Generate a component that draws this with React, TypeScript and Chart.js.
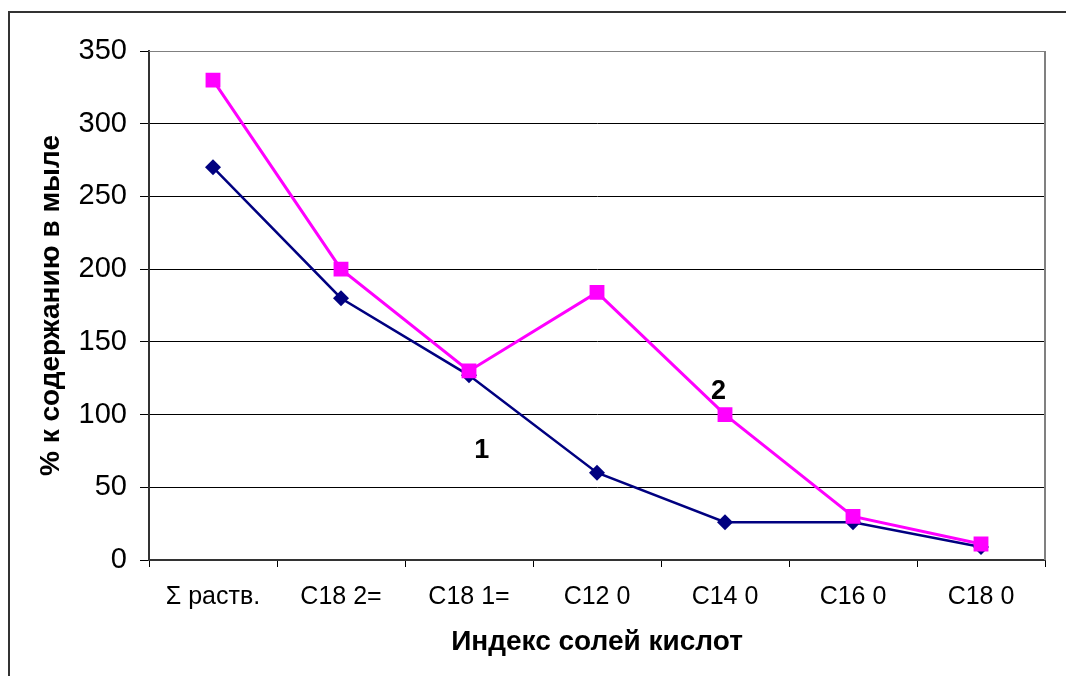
import React, { useEffect, useRef } from "react";
import { Chart, registerables } from "chart.js";

Chart.register(...registerables);

const categories = ["Σ раств.", "C18 2=", "C18 1=", "C12 0", "C14 0", "C16 0", "C18 0"];
const series1 = [270, 180, 127, 60, 26, 26, 9];
const series2 = [330, 200, 130, 184, 100, 30, 11];
const yTicks = [0, 50, 100, 150, 200, 250, 300, 350];
const annotLabels = ["1", "2"];
const annotX = [2.1, 3.95];
const annotY = [75.5, 116];

const FONT = "'Liberation Sans', Arial, sans-serif";

const decorPlugin = {
  id: "decor",
  afterDatasetsDraw(chart: any) {
    const { ctx, chartArea, scales } = chart;
    ctx.save();
    ctx.strokeStyle = "#808080";
    ctx.lineWidth = 2;
    ctx.beginPath();
    ctx.moveTo(chartArea.right, chartArea.top);
    ctx.lineTo(chartArea.right, chartArea.bottom);
    ctx.stroke();
    ctx.lineWidth = 1;
    ctx.beginPath();
    ctx.moveTo(chartArea.left, chartArea.top + 0.5);
    ctx.lineTo(chartArea.right, chartArea.top + 0.5);
    ctx.stroke();
    ctx.fillStyle = "#000";
    ctx.font = `bold 27px ${FONT}`;
    ctx.textAlign = "center";
    ctx.textBaseline = "middle";
    annotLabels.forEach((t, i) => {
      ctx.fillText(t, scales.x.getPixelForValue(annotX[i]), scales.y.getPixelForValue(annotY[i]));
    });
    ctx.restore();
  },
};

export default function App() {
  const ref = useRef<HTMLCanvasElement | null>(null);
  useEffect(() => {
    if (!ref.current) return;
    const chart = new Chart(ref.current, {
      type: "line",
      data: {
        labels: categories,
        datasets: [
          {
            label: "1",
            data: series1,
            borderColor: "#000080",
            backgroundColor: "#000080",
            borderWidth: 2.5,
            pointStyle: "rectRot",
            pointRadius: 8,
            pointBorderWidth: 0,
            order: 1,
          },
          {
            label: "2",
            data: series2,
            borderColor: "#FF00FF",
            backgroundColor: "#FF00FF",
            borderWidth: 3,
            pointStyle: "rect",
            pointRadius: 10.5,
            pointBorderWidth: 0,
            order: 0,
          },
        ],
      },
      options: {
        responsive: false,
        animation: false,
        layout: { padding: { left: 0, top: 43, right: 21, bottom: 0 } },
        plugins: { legend: { display: false }, tooltip: { enabled: false } },
        scales: {
          x: {
            type: "category",
            offset: true,
            afterFit(scale: any) {
              scale.height = 116;
            },
            grid: {
              offset: true,
              drawOnChartArea: false,
              drawTicks: true,
              tickLength: 7,
              color: "#000",
              lineWidth: 1,
            },
            border: { display: true, color: "#333", width: 2 },
            ticks: {
              color: "#000",
              font: { family: FONT, size: 25 },
              padding: 15,
              autoSkip: false,
              maxRotation: 0,
            },
            title: {
              display: true,
              text: "Индекс солей кислот",
              color: "#000",
              font: { family: FONT, size: 28, weight: "bold" },
              padding: { top: 0, bottom: 17 },
            },
          },
          y: {
            min: 0,
            max: 350,
            afterFit(scale: any) {
              scale.width = 141;
            },
            afterBuildTicks(scale: any) {
              scale.ticks = yTicks.map((v) => ({ value: v }));
            },
            grid: {
              color: "#000",
              lineWidth: 1,
              tickLength: 9,
            },
            border: { display: true, color: "#333", width: 2 },
            ticks: {
              color: "#000",
              font: { family: FONT, size: 29 },
              padding: 13,
            },
            title: {
              display: true,
              text: "% к содержанию в мыле",
              color: "#000",
              font: { family: FONT, size: 28, weight: "bold" },
              padding: { top: 26, bottom: 0 },
            },
          },
        },
      },
      plugins: [decorPlugin],
    });
    return () => chart.destroy();
  }, []);

  return (
    <div style={{ position: "relative", width: 1058, height: 668, overflow: "hidden" }}>
      <div
        style={{
          position: "absolute",
          left: 0,
          top: 3,
          width: 2000,
          height: 2000,
          borderLeft: "2px solid #333",
          borderTop: "2px solid #333",
        }}
      />
      <canvas
        ref={ref}
        width={1058}
        height={668}
        style={{ position: "absolute", left: 0, top: 0, width: 1058, height: 668 }}
      />
    </div>
  );
}
